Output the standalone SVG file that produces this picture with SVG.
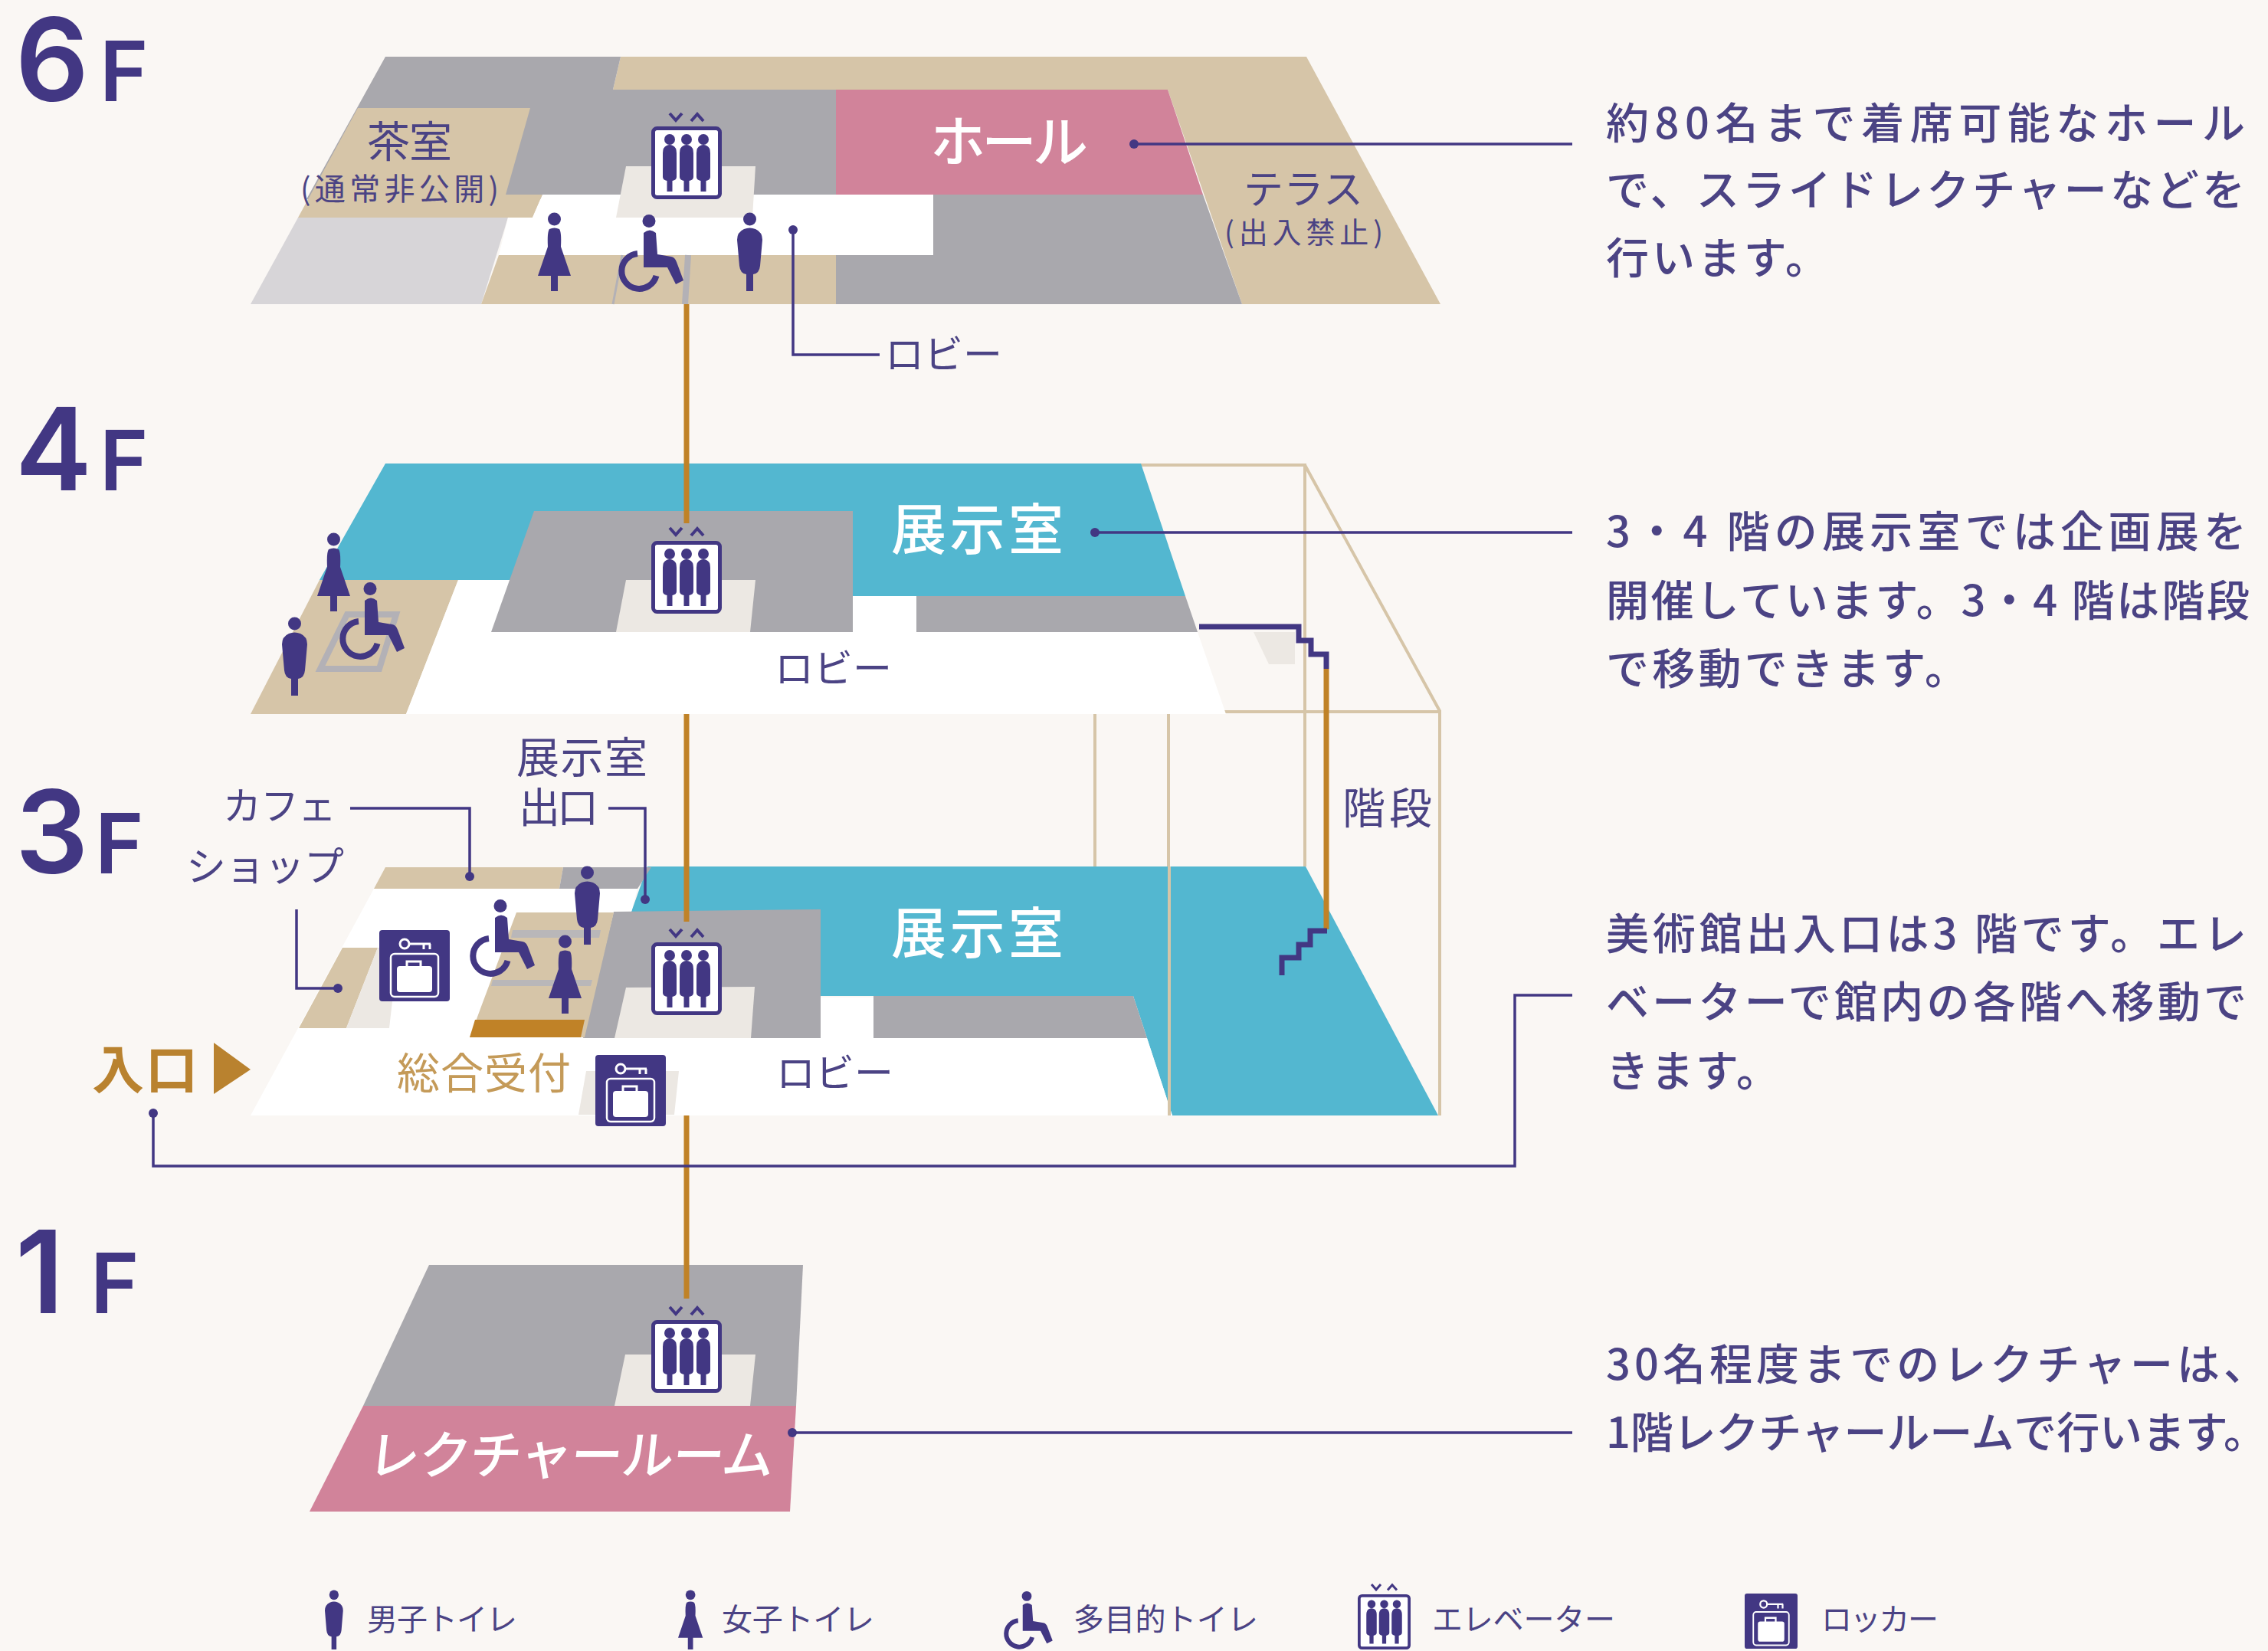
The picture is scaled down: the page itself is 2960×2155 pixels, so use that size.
<svg xmlns="http://www.w3.org/2000/svg" xmlns:xlink="http://www.w3.org/1999/xlink" width="2960" height="2155" viewBox="0 0 2960 2155">
<style>
text{font-family:"Noto Sans CJK JP","Noto Sans",sans-serif;fill:#4b4384}
.gy{fill:#a9a8ad}.tn{fill:#d6c5a8}.pk{fill:#d1839a}.cy{fill:#53b7d0}.wh{fill:#fff}.lg{fill:#d7d5d8}.lb{fill:#ece8e3}.or{fill:#c08227}
.big{font-family:"Inter","Liberation Sans",sans-serif;font-weight:600;fill:#423783}
.body{font-size:56px;font-weight:500}
.wt{fill:#fff;font-weight:500}
.wire{fill:none;stroke:#d6c5a8;stroke-width:4}
.lead{fill:none;stroke:#423783;stroke-width:3.5}
.shaft{fill:none;stroke:#c08227;stroke-width:7}
.stair{fill:none;stroke:#423783;stroke-width:7}
.wc{fill:none;stroke:#b3b1b6;stroke-width:8}
.dot{fill:#423783}
.ic{fill:#423783}
</style>
<defs>
<g id="male" class="ic"><circle cx="16.500" cy="9" r="8.500"/><path d="M9 22Q16.500 19 24 22Q33 26 33 36L30 70Q29 80 21 81V103H12V81Q4 80 3 70L0 36Q0 26 9 22Z"/></g>
<g id="female" class="ic"><circle cx="21.500" cy="9" r="8.500"/><path d="M15 22Q21.500 19 28 22Q31 26 30 45L43 83H26V103H17V83H0L13 45Q12 26 15 22Z"/></g>
<g id="wheel"><circle cx="40" cy="8.500" r="8.500" class="ic"/><path class="ic" d="M33 24Q41 17 49 24L51 52L69 55Q74 56 76 62L85 86L75 91L64 69H33Z"/><path d="M25 51A23 23 0 1 0 49.500 80" fill="none" stroke="#423783" stroke-width="8"/></g>
<g id="person" class="ic"><circle cx="0" cy="7" r="7"/><path d="M-4 15Q0 13 4 15Q9 17 9 25V56Q9 60 3.500 61V75H-3.500V61Q-9 60-9 56V25Q-9 17-4 15Z"/></g>
<g id="lift"><path d="M24 0L32 9L40 0M52 10L60 1L68 10" fill="none" stroke="#423783" stroke-width="4"/><rect x="2.500" y="19.500" width="87" height="90" rx="5" fill="#fff" stroke="#423783" stroke-width="5"/><use href="#person" x="24" y="27"/><use href="#person" x="46" y="27"/><use href="#person" x="68" y="27"/></g>
<g id="locker"><rect width="92" height="93" rx="4" fill="#423783"/><circle cx="33" cy="18" r="6" fill="none" stroke="#fff" stroke-width="3"/><path d="M39 18H67M58 18V25M66 18V25" fill="none" stroke="#fff" stroke-width="3"/><rect x="15" y="31" width="62" height="56" rx="5" fill="none" stroke="#fff" stroke-width="2.500"/><path d="M36 49V41H54V49" fill="none" stroke="#fff" stroke-width="3"/><rect x="23" y="47" width="46" height="34" rx="4" fill="#fff"/></g>
</defs>
<rect width="2960" height="2155" fill="#faf7f4"/>

<g id="wireframe">
<path class="wire" d="M1489 607H1703L1879 928M1703 605V1131M1525 1456V929H1879V1456M1429 932V1131"/>
</g>

<g id="floor-6f">
<polygon class="tn" points="810,74 1705,74 1880,397 1621,397 1524,117 800,117"/>
<polygon class="gy" points="1218,254 1570,254 1621,397 1091,397 1091,333 1218,333"/>
<polygon class="gy" points="503,74 810,74 800,117 1091,117 1091,260 650,260 650,290 400,260"/>
<polygon class="pk" points="1091,117 1524,117 1570,254 1091,254"/>
<polygon class="tn" points="467,141 692,141 660,254 708,254 695,284 389,284"/>
<polygon class="lg" points="389,284 663,284 628,397 327,397"/>
<polygon class="wh" points="708,254 1218,254 1218,333 651,333 663,284 695,284"/>
<polygon class="tn" points="651,333 1091,333 1091,397 628,397"/>
<polygon class="lb" points="817,217 986,217 982,284 804,284"/>
<path class="wc" d="M800 397L812 333" style="stroke-width:3"/>
<path class="wc" d="M898 333L894 397"/>
<text x="479" y="205" font-size="56" textLength="111">茶室</text>
<text x="392" y="261" font-size="40" textLength="259">(通常非公開)</text>
<text x="1623" y="266" font-size="52" textLength="156">テラス</text>
<text x="1598" y="317" font-size="38" textLength="207">(出入禁止)</text>
<text class="wt" x="1214" y="211" font-size="72" textLength="206">ホール</text>
<text x="1155" y="481" font-size="51" textLength="153">ロビー</text>
</g>

<g id="floor-4f">
<polygon class="tn" points="417,757 598,757 530,932 327,932"/>
<polygon class="wh" points="598,757 1113,757 1113,778 1196,778 1196,825 1563,825 1600,932 530,932"/>
<polygon class="cy" points="503,605 1489,605 1547,778 1113,778 1113,757 417,757"/>
<polygon class="gy" points="1196,778 1547,778 1563,825 1196,825"/>
<polygon class="gy" points="697,667 1113,667 1113,825 641,825"/>
<polygon class="lb" points="817,757 986,757 979,825 804,825"/>
<polygon class="lb" points="1636,825 1690,825 1690,867 1656,867"/>
<polygon class="wc" points="453,802 517,802 495,873 418,873"/>
<text class="wt" x="1163" y="717" font-size="72" textLength="225">展示室</text>
<text x="1011" y="891" font-size="51" textLength="153">ロビー</text>
</g>

<g id="floor-3f">
<polygon class="cy" points="845,1131 1704,1131 1877,1456 1530,1456 1479,1300 1071,1300 1071,1190 824,1190"/>
<polygon class="wh" points="488,1160 832,1160 824,1190 1071,1190 1071,1302 1140,1302 1140,1355 1497,1355 1530,1456 327,1456"/>
<polygon class="tn" points="503,1132 735,1132 730,1160 488,1160"/>
<polygon class="gy" points="735,1132 850,1132 832,1160 730,1160"/>
<polygon class="gy" points="1140,1300 1479,1300 1497,1355 1140,1355"/>
<polygon class="gy" points="801,1190 1071,1187 1071,1355 761,1355"/>
<polygon class="lb" points="817,1289 985,1288 980,1355 802,1355"/>
<polygon class="tn" points="674,1191 801,1191 763,1354 613,1354"/>
<polygon fill="#b9b7b9" points="669,1214 784,1214 782,1224 667,1224"/>
<polygon fill="#b9b7b9" points="643,1279 773,1279 771,1287 641,1287"/>
<polygon class="or" points="620,1331 763,1331 758,1354 613,1354"/>
<polygon class="tn" points="447,1237 493,1237 452,1342 390,1342"/>
<polygon class="lb" points="493,1237 520,1237 508,1342 452,1342"/>
<polygon class="lb" points="765,1398 886,1398 880,1455 755,1455"/>
<path class="wire" d="M1526 1131V1456M1879 1131V1456"/>
<text class="wt" x="1163" y="1244" font-size="72" textLength="225">展示室</text>
<text x="1013" y="1419" font-size="51" textLength="153">ロビー</text>
<text x="518" y="1421" font-size="56" textLength="227" style="fill:#c49a58">総合受付</text>
<text x="120" y="1421" font-size="68" textLength="138" style="fill:#b9822f;font-weight:700">入口</text>
<polygon points="279,1361 327,1396 279,1428" style="fill:#b9822f"/>
<text x="674" y="1009" font-size="56" textLength="171">展示室</text>
<text x="677" y="1074" font-size="54" textLength="104">出口</text>
<text x="291" y="1070" font-size="50" textLength="148">カフェ</text>
<text x="243" y="1150" font-size="52" textLength="206">ショップ</text>
<text x="1752" y="1075" font-size="56" textLength="117">階段</text>
</g>

<g id="floor-1f">
<polygon class="gy" points="560,1651 1048,1651 1039,1835 474,1835"/>
<polygon class="pk" points="474,1835 1039,1835 1031,1973 404,1973"/>
<polygon class="lb" points="816,1768 986,1768 979,1835 802,1835"/>
<text class="wt" transform="translate(478 1924) skewX(-6)" font-size="68" textLength="530">レクチャールーム</text>
</g>

<g id="connectors">
<path class="shaft" d="M896 397V683M896 932V1203M896 1456V1695M1731 873V1213"/>
<path class="stair" d="M1565 818H1695V836H1711V854H1731V873"/>
<path class="stair" d="M1732 1215H1710V1233H1695V1250H1673V1273"/>
<path class="lead" d="M1035 300V463H1148"/>
<path class="lead" d="M1480 188H2052"/>
<path class="lead" d="M1429 695H2052"/>
<path class="lead" d="M200 1453V1522H1977V1299H2052"/>
<path class="lead" d="M1034 1870H2052"/>
<path class="lead" d="M794 1055H842V1174"/>
<path class="lead" d="M457 1055H613V1144"/>
<path class="lead" d="M387 1187V1290H441"/>
<circle class="dot" cx="1035" cy="300" r="6"/><circle class="dot" cx="1480" cy="188" r="6"/><circle class="dot" cx="1429" cy="695" r="6"/><circle class="dot" cx="200" cy="1453" r="6"/><circle class="dot" cx="1034" cy="1870" r="6"/><circle class="dot" cx="842" cy="1174" r="6"/><circle class="dot" cx="613" cy="1144" r="6"/><circle class="dot" cx="441" cy="1290" r="6"/>
</g>

<g id="icons-6f">
<use href="#lift" x="850" y="148"/><use href="#female" x="702" y="277"/><use href="#wheel" x="807" y="280"/><use href="#male" x="962" y="277"/>
</g>
<g id="icons-4f">
<use href="#lift" x="850" y="689"/><use href="#female" x="414" y="695"/><use href="#wheel" x="443" y="760"/><use href="#male" x="368" y="805"/>
</g>
<g id="icons-3f">
<use href="#lift" x="850" y="1213"/><use href="#locker" x="495" y="1214"/><use href="#locker" x="777" y="1377"/><use href="#wheel" x="613" y="1174"/><use href="#male" x="750" y="1130"/><use href="#female" x="716" y="1220"/>
</g>
<g id="icons-1f">
<use href="#lift" x="850" y="1706"/>
</g>

<g id="floor-labels">
<text class="big" x="20" y="132" font-size="150">6</text><text class="big" x="130" y="132" font-size="108">F</text>
<text class="big" x="20" y="640" font-size="150">4</text><text class="big" x="130" y="640" font-size="108">F</text>
<text class="big" x="20" y="1140" font-size="150">3</text><text class="big" x="124" y="1140" font-size="108">F</text>
<text class="big" x="20" y="1714" font-size="150">1</text><text class="big" x="118" y="1714" font-size="108">F</text>
</g>

<g id="descriptions">
<text class="body" x="2096" y="181" textLength="834">約80名まで着席可能なホール</text>
<text class="body" x="2096" y="268" textLength="834">で、スライドレクチャーなどを</text>
<text class="body" x="2096" y="357" textLength="290">行います。</text>
<text class="body" x="2096" y="714" textLength="836">3・4 階の展示室では企画展を</text>
<text class="body" x="2096" y="804" textLength="840">開催しています。3・4 階は階段</text>
<text class="body" x="2096" y="893" textLength="472">で移動できます。</text>
<text class="body" x="2096" y="1239" textLength="836">美術館出入口は3 階です。エレ</text>
<text class="body" x="2096" y="1328" textLength="836">ベーターで館内の各階へ移動で</text>
<text class="body" x="2096" y="1418" textLength="226">きます。</text>
<text class="body" x="2096" y="1801" textLength="862">30名程度までのレクチャーは、</text>
<text class="body" x="2096" y="1890" textLength="862">1階レクチャールームで行います。</text>
</g>

<g id="legend">
<g id="legend-male"><use href="#male" transform="translate(424 2075) scale(.72 .757)"/><text x="479" y="2128" font-size="40" textLength="196">男子トイレ</text></g>
<g id="legend-female"><use href="#female" transform="translate(885 2075) scale(.75 .757)"/><text x="942" y="2128" font-size="40" textLength="199">女子トイレ</text></g>
<g id="legend-wheel"><use href="#wheel" transform="translate(1310 2077) scale(.75)"/><text x="1401" y="2128" font-size="40" textLength="241">多目的トイレ</text></g>
<g id="legend-lift"><use href="#lift" transform="translate(1772 2068) scale(.75 .76)"/><text x="1869" y="2128" font-size="40" textLength="239">エレベーター</text></g>
<g id="legend-locker"><use href="#locker" transform="translate(2277 2080) scale(.75 .775)"/><text x="2377" y="2128" font-size="40" textLength="153">ロッカー</text></g>
</g>
</svg>
